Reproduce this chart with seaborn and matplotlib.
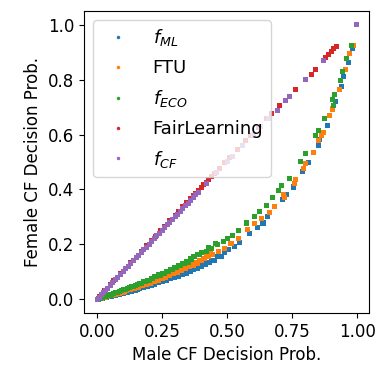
import numpy as np
import pandas as pd
import matplotlib
matplotlib.use("Agg")
import matplotlib.pyplot as plt
import seaborn as sns

labels = [r"$f_{ML}$", "FTU", r"$f_{ECO}$", "FairLearning", r"$f_{CF}$"]

ml_x = [0.005, 0.02, 0.035, 0.05, 0.065, 0.08, 0.095, 0.11, 0.125, 0.14, 0.155, 0.17, 0.185, 0.20, 0.215,
        0.23, 0.245, 0.26, 0.275, 0.29, 0.305, 0.32, 0.335, 0.35, 0.365, 0.38, 0.395, 0.41, 0.425, 0.44,
        0.0125, 0.0275, 0.0425, 0.0575, 0.0725, 0.0875, 0.1025, 0.1175, 0.1325, 0.1475, 0.1625, 0.1775,
        0.1925, 0.2075, 0.2225, 0.2375, 0.2525, 0.2675, 0.2825, 0.2975, 0.3125, 0.3275, 0.3425, 0.3575,
        0.3725, 0.3875, 0.4025, 0.4175, 0.4325, 0.45, 0.478,
        0.465, 0.49, 0.507, 0.53, 0.548, 0.587, 0.617, 0.638, 0.657, 0.713, 0.728, 0.756, 0.79, 0.812,
        0.85, 0.857, 0.885, 0.918, 0.941, 0.949, 0.968, 0.983]
ml_y = [0.0011, 0.0043, 0.0076, 0.011, 0.0146, 0.0182, 0.022, 0.026, 0.0295, 0.0335, 0.0376, 0.0418, 0.046,
        0.0505, 0.055, 0.0598, 0.0646, 0.0695, 0.0747, 0.080, 0.0854, 0.091, 0.0968, 0.1028, 0.109, 0.1154,
        0.122, 0.129, 0.136, 0.143,
        0.0026, 0.0058, 0.009, 0.0123, 0.0157, 0.0192, 0.0228, 0.0265, 0.0302, 0.0341, 0.0381, 0.0422,
        0.0464, 0.0507, 0.0552, 0.0598, 0.0645, 0.0694, 0.0744, 0.0795, 0.0849, 0.0903, 0.096, 0.1018,
        0.1079, 0.1141, 0.1205, 0.1272, 0.134, 0.143, 0.157,
        0.155, 0.17, 0.181, 0.193, 0.206, 0.239, 0.262, 0.278, 0.302, 0.363,
        0.381, 0.409, 0.465, 0.498, 0.559, 0.583, 0.631, 0.72, 0.776, 0.812, 0.861, 0.913]

ftu_x = [0.01, 0.025, 0.04, 0.055, 0.07, 0.085, 0.10, 0.115, 0.13, 0.145, 0.16, 0.175, 0.19, 0.205, 0.22,
         0.235, 0.25, 0.265, 0.28, 0.295, 0.31, 0.325, 0.34, 0.355, 0.37, 0.385, 0.40, 0.415, 0.43,
         0.0175, 0.0325, 0.0475, 0.0625, 0.0775, 0.0925, 0.1075, 0.1225, 0.1375, 0.1525, 0.1675, 0.1825,
         0.1975, 0.2125, 0.2275, 0.2425, 0.2575, 0.2725, 0.2875, 0.3025, 0.3175, 0.3325, 0.3475, 0.3625,
         0.3775, 0.3925, 0.4075, 0.4225, 0.4375,
         0.445, 0.468, 0.491, 0.515, 0.542, 0.58, 0.606, 0.632, 0.664, 0.681, 0.715, 0.719, 0.758, 0.763,
         0.792, 0.802, 0.831, 0.85, 0.863, 0.869, 0.895, 0.904, 0.906, 0.931, 0.956, 0.972, 0.985]
ftu_y = [0.0025, 0.0062, 0.010, 0.014, 0.018, 0.022, 0.0264, 0.0307, 0.0352, 0.0397, 0.0444, 0.0492, 0.0541,
         0.0592, 0.0644, 0.0697, 0.0752, 0.0808, 0.0866, 0.0926, 0.0988, 0.105, 0.112, 0.118, 0.125, 0.132,
         0.140, 0.148, 0.155,
         0.0045, 0.0085, 0.0126, 0.0168, 0.0211, 0.0254, 0.0299, 0.0345, 0.0392, 0.0441, 0.049, 0.0541,
         0.0593, 0.0647, 0.0702, 0.0758, 0.0816, 0.0876, 0.0937, 0.100, 0.1065, 0.1131, 0.120, 0.1271,
         0.1344, 0.142, 0.150, 0.158, 0.166,
         0.163, 0.176, 0.187, 0.204, 0.22, 0.254, 0.275, 0.293, 0.318, 0.338, 0.381,
         0.369, 0.423, 0.438, 0.478, 0.496, 0.534, 0.578, 0.598, 0.608, 0.67, 0.692, 0.695, 0.765, 0.837,
         0.895, 0.925]

eco_x = [0.005, 0.02, 0.035, 0.05, 0.065, 0.08, 0.095, 0.11, 0.125, 0.14, 0.155, 0.17, 0.185, 0.20, 0.215,
         0.23, 0.245, 0.26, 0.275, 0.29, 0.305, 0.32, 0.335, 0.35, 0.365,
         0.0125, 0.0275, 0.0425, 0.0575, 0.0725, 0.0875, 0.1025, 0.1175, 0.1325, 0.1475, 0.1625, 0.1775,
         0.1925, 0.2075, 0.2225, 0.2375, 0.2525, 0.2675, 0.2825, 0.2975, 0.3125, 0.3275, 0.3425, 0.3575,
         0.3725, 0.3875, 0.4025, 0.43, 0.455,
         0.375, 0.395, 0.42, 0.44, 0.465,
         0.485, 0.503, 0.52, 0.542, 0.574, 0.606, 0.625, 0.651, 0.673, 0.699, 0.711, 0.741, 0.782, 0.802,
         0.84, 0.85, 0.873, 0.906, 0.908, 0.914, 0.936, 0.944, 0.96, 0.979]
eco_y = [0.0018, 0.0065, 0.0112, 0.016, 0.021, 0.026, 0.0315, 0.037, 0.043, 0.048, 0.0535, 0.059,
         0.0645, 0.07, 0.076, 0.082, 0.088, 0.0945, 0.101, 0.108, 0.115, 0.122, 0.129, 0.136, 0.144,
         0.0042, 0.009, 0.014, 0.0192, 0.0245, 0.03, 0.0355, 0.041, 0.0465, 0.052, 0.058, 0.064,
         0.070, 0.0765, 0.083, 0.089, 0.096, 0.103, 0.110, 0.117, 0.124, 0.131, 0.139, 0.147,
         0.1543, 0.1628, 0.1716, 0.188, 0.204,
         0.155, 0.162, 0.175, 0.187, 0.199, 0.21, 0.22, 0.233, 0.25, 0.278, 0.302, 0.32, 0.341, 0.369, 0.396,
         0.413, 0.441, 0.50, 0.53, 0.598, 0.614, 0.659, 0.728, 0.704, 0.747, 0.798, 0.828, 0.877, 0.925]

fl_x = [0.01, 0.03, 0.05, 0.065, 0.09, 0.11, 0.13, 0.15, 0.17, 0.19, 0.21, 0.225, 0.245, 0.26, 0.28, 0.30,
        0.315, 0.33, 0.345, 0.36, 0.37, 0.38, 0.39, 0.40, 0.41, 0.42, 0.43, 0.44, 0.45, 0.47, 0.49, 0.51,
        0.54, 0.57, 0.59, 0.62, 0.65, 0.67, 0.703, 0.764, 0.825, 0.841, 0.87, 0.88, 0.89, 0.90, 0.91, 0.92]
fl_y = [0.012, 0.033, 0.054, 0.068, 0.094, 0.114, 0.135, 0.154, 0.175, 0.195, 0.216, 0.23, 0.25, 0.266,
        0.286, 0.305, 0.32, 0.337, 0.352, 0.366, 0.377, 0.387, 0.397, 0.407, 0.417, 0.427, 0.437, 0.447,
        0.457, 0.477, 0.497, 0.517, 0.547, 0.577, 0.597, 0.627, 0.657, 0.677, 0.704, 0.764, 0.82, 0.837,
        0.868, 0.88, 0.891, 0.903, 0.913, 0.921]

cf_x = [0.0, 0.008, 0.016, 0.024, 0.032, 0.04, 0.05, 0.06, 0.07, 0.08, 0.09, 0.10, 0.11, 0.12, 0.13, 0.14,
        0.15, 0.16, 0.17, 0.18, 0.19, 0.20, 0.21, 0.22, 0.23, 0.24, 0.25, 0.26, 0.27, 0.28, 0.29, 0.30,
        0.31, 0.32, 0.33, 0.34, 0.35, 0.36, 0.37, 0.38, 0.39, 0.42, 0.46, 0.50, 0.52, 0.56, 0.60, 0.63,
        0.66, 0.694, 0.723, 0.741, 0.803, 0.872, 0.996]
cf_y = [0.0, 0.008, 0.017, 0.024, 0.033, 0.04, 0.051, 0.06, 0.071, 0.08, 0.091, 0.10, 0.111, 0.12, 0.131,
        0.14, 0.151, 0.16, 0.171, 0.18, 0.19, 0.20, 0.211, 0.22, 0.231, 0.24, 0.25, 0.26, 0.271, 0.28,
        0.29, 0.30, 0.31, 0.32, 0.331, 0.34, 0.35, 0.36, 0.37, 0.38, 0.39, 0.42, 0.46, 0.50, 0.52, 0.56,
        0.60, 0.63, 0.66, 0.689, 0.722, 0.737, 0.80, 0.87, 0.999]

series = [(ml_x, ml_y), (ftu_x, ftu_y), (eco_x, eco_y), (fl_x, fl_y), (cf_x, cf_y)]
frames = []
for lab, (xs, ys) in zip(labels, series):
    frames.append(pd.DataFrame({"male": xs, "female": ys, "method": lab}))
df = pd.concat(frames, ignore_index=True)

fig = plt.figure(figsize=(3.77, 3.71), dpi=100)
ax = fig.add_axes([0.223, 0.156, 0.756, 0.814])
sns.scatterplot(data=df, x="male", y="female", hue="method", hue_order=labels,
                palette=sns.color_palette("tab10", 5), s=13, linewidth=0, marker="s", ax=ax)
ax.set_xlabel("Male CF Decision Prob.", fontsize=12)
ax.set_ylabel("Female CF Decision Prob.", fontsize=12)
ax.set_xticks([0.0, 0.25, 0.5, 0.75, 1.0])
ax.set_xticklabels(["0.00", "0.25", "0.50", "0.75", "1.00"])
ax.set_yticks([0.0, 0.2, 0.4, 0.6, 0.8, 1.0])
ax.tick_params(labelsize=12)
h, l = ax.get_legend_handles_labels()
for hh in h:
    hh.set_marker("o")
    hh.set_markersize(2.5)
ax.legend(h, l, loc="upper left", fontsize=13, handletextpad=0.9, labelspacing=0.6)
fig.savefig("out.png", dpi=100)
